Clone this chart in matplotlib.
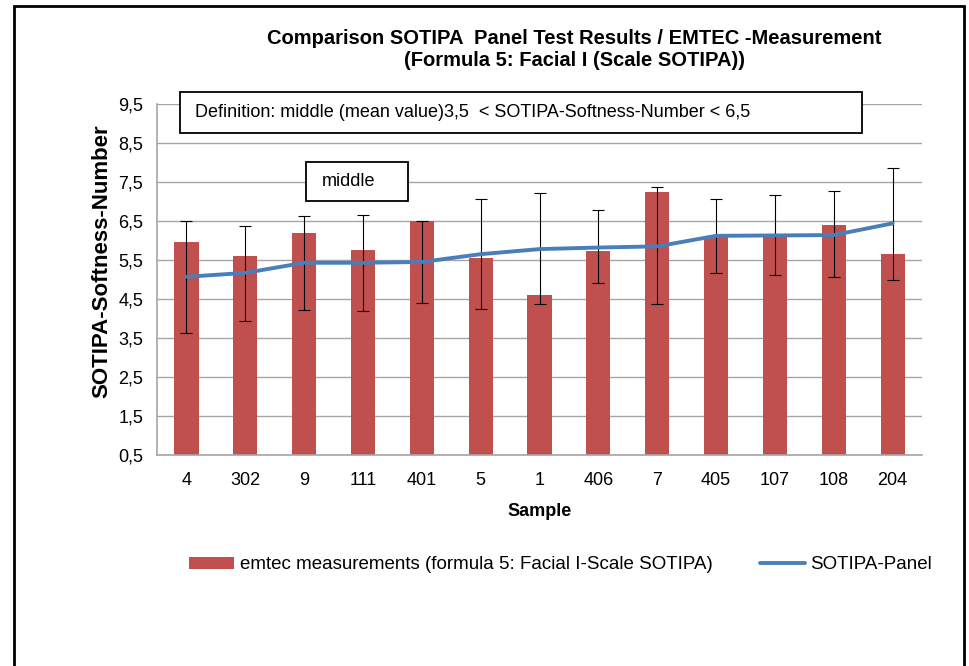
import matplotlib
matplotlib.use('Agg')
import matplotlib.pyplot as plt
from matplotlib.patches import Rectangle
import numpy as np

plt.rcParams['font.family'] = ['Liberation Sans', 'DejaVu Sans']

# data
samples = ['4', '302', '9', '111', '401', '5', '1', '406', '7', '405', '107', '108', '204']
emtec = [5.95, 5.6, 6.2, 5.75, 6.5, 5.55, 4.6, 5.72, 7.25, 6.1, 6.15, 6.4, 5.65]
err_low = [3.64, 3.94, 4.23, 4.2, 4.4, 4.25, 4.38, 4.9, 4.38, 5.17, 5.12, 5.06, 5.0]
err_high = [6.5, 6.37, 6.62, 6.65, 6.5, 7.06, 7.22, 6.78, 7.37, 7.06, 7.17, 7.27, 7.86]
panel = [5.07, 5.17, 5.43, 5.43, 5.45, 5.65, 5.78, 5.82, 5.85, 6.12, 6.13, 6.14, 6.44]
yticks = [0.5, 1.5, 2.5, 3.5, 4.5, 5.5, 6.5, 7.5, 8.5, 9.5]

bar_color = '#c0504d'
line_color = '#4a7ebb'
grid_color = '#a6a6a6'

fig = plt.figure(figsize=(9.7, 6.66), dpi=100)
ax = fig.add_axes([0.1619, 0.3168, 0.7886, 0.527])

x = np.arange(len(samples))
emtec_a = np.array(emtec)
yerr = [emtec_a - np.array(err_low), np.array(err_high) - emtec_a]

bars = ax.bar(x, emtec, width=0.41, color=bar_color, zorder=2,
              label='emtec measurements (formula 5: Facial I-Scale SOTIPA)')
ax.errorbar(x, emtec, yerr=yerr, fmt='none', ecolor='black', elinewidth=0.8,
            capsize=4, capthick=0.8, zorder=3)
line, = ax.plot(x, panel, color=line_color, lw=2.8, solid_joinstyle='round',
                solid_capstyle='round', zorder=4, label='SOTIPA-Panel')

ax.set_xlim(-0.5, len(samples) - 0.5)
ax.set_ylim(0.5, 9.5)
ax.set_yticks(yticks)
ax.set_yticklabels([str(t).replace('.', ',') for t in yticks])
ax.set_xticks(x)
ax.set_xticklabels(samples)
ax.tick_params(axis='y', length=0, labelsize=13, pad=10)
ax.tick_params(axis='x', length=0, labelsize=13, pad=12)
ax.yaxis.grid(True, color=grid_color, lw=1)
ax.set_axisbelow(True)
for s in ['top', 'right']:
    ax.spines[s].set_visible(False)
for s in ['left', 'bottom']:
    ax.spines[s].set_color(grid_color)
    ax.spines[s].set_linewidth(1.2)

ax.set_ylabel('SOTIPA-Softness-Number', fontsize=16, fontweight='bold', va='center')
ax.yaxis.set_label_coords(-0.072, 0.553)
ax.set_xlabel('Sample', fontsize=13, fontweight='bold', labelpad=10)

fig.text(0.592, 0.925, 'Comparison SOTIPA  Panel Test Results / EMTEC -Measurement\n(Formula 5: Facial I (Scale SOTIPA))',
         ha='center', va='center', fontsize=14.5, fontweight='bold', linespacing=1.2)

# text boxes inside the chart
ax.add_patch(Rectangle((0.030, 0.917), 0.8916, 0.117, transform=ax.transAxes,
                       fill=True, facecolor='white', edgecolor='black', lw=1.3,
                       clip_on=False, zorder=5))
ax.text(0.05, 0.975, 'Definition: middle (mean value)3,5  < SOTIPA-Softness-Number < 6,5',
        transform=ax.transAxes, va='center', ha='left', fontsize=13, zorder=6)
ax.add_patch(Rectangle((0.195, 0.724), 0.133, 0.111, transform=ax.transAxes,
                       fill=True, facecolor='white', edgecolor='black', lw=1.3,
                       clip_on=False, zorder=5))
ax.text(0.2155, 0.78, 'middle', transform=ax.transAxes, va='center', ha='left',
        fontsize=13, zorder=6)

fig.legend([bars, line], [bars.get_label(), line.get_label()],
           loc='center', bbox_to_anchor=(0.578, 0.152), ncol=2, frameon=False,
           fontsize=13.5, handlelength=2.4, handleheight=0.6, columnspacing=2.5,
           handletextpad=0.3)

# outer frame of the chart
fig.patches.append(Rectangle((14 / 970, -0.05), 950 / 970, 1.05 - 6 / 666,
                             transform=fig.transFigure, fill=False,
                             edgecolor='black', lw=2))

fig.savefig('out.png', dpi=100)
